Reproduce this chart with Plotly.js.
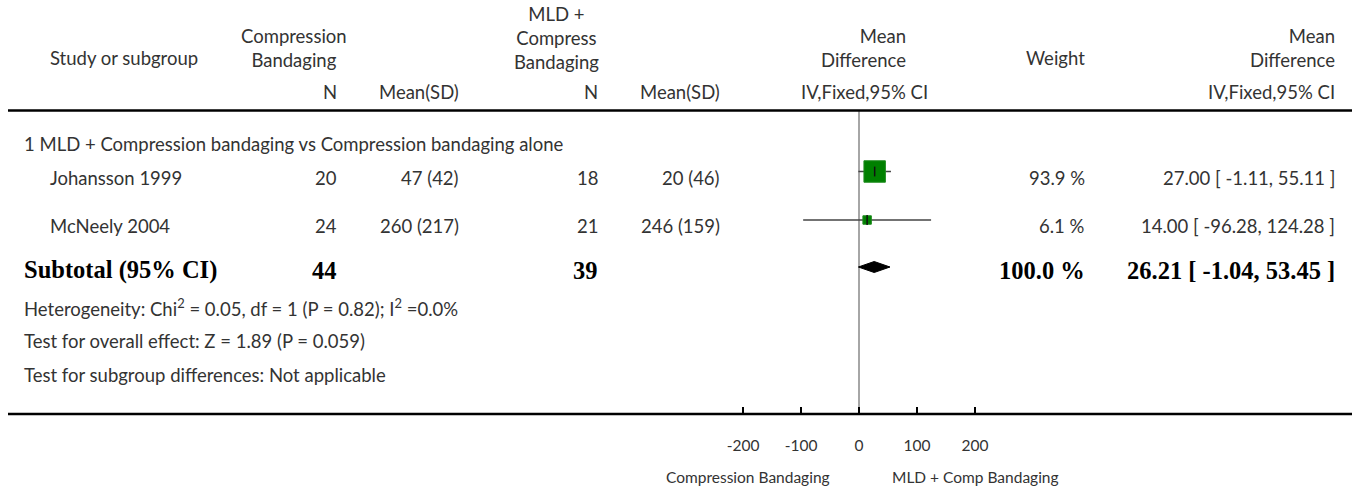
<!DOCTYPE html>
<html><head><meta charset="utf-8">
<script src="https://cdn.plot.ly/plotly-3.0.1.min.js"></script>
<style>html,body{margin:0;padding:0;background:#fff;}#chart{width:1359px;height:491px;}</style>
</head><body><div id="chart"></div>
<script>
// ---- data ----
var studies = ['Johansson 1999', 'McNeely 2004'];
var n1 = [20, 24];
var mean1 = [47, 260];
var sd1 = [42, 217];
var n2 = [18, 21];
var mean2 = [20, 246];
var sd2 = [46, 159];
var md = [27.00, 14.00];
var ciLow = [-1.11, -96.28];
var ciHigh = [55.11, 124.28];
var weights = [93.9, 6.1];
var totalN1 = 44, totalN2 = 39;
var totalMD = 26.21, totalLow = -1.04, totalHigh = 53.45, totalWeight = 100.0;
var tickValues = [-200, -100, 0, 100, 200];
var tickLabels = ['-200', '-100', '0', '100', '200'];
var subgroupTitle = '1 MLD + Compression bandaging vs Compression bandaging alone';
var footLines = [
  'Heterogeneity: Chi<sup>2</sup> = 0.05, df = 1 (P = 0.82); I<sup>2</sup> =0.0%',
  'Test for overall effect: Z = 1.89 (P = 0.059)',
  'Test for subgroup differences: Not applicable'
];
var favourLeft = 'Compression Bandaging', favourRight = 'MLD + Comp Bandaging';

// ---- layout constants ----
var W = 1359, H = 491;
var zeroPx = 859, pxPerUnit = 0.58;
var xr = [-zeroPx / pxPerUnit, (W - zeroPx) / pxPerUnit];
var rowText = [178, 226], rowMark = [171.5, 220];
var subText = 270, subMark = 267;
var SANS = 'Lato, "Open Sans", sans-serif';
var SERIF = '"Liberation Serif", "DejaVu Serif", serif';
var TXT = '#333333';
var FS = 18.5;
function px(x) { return x / W; }
var ann = [];
function t(text, x, y, anchor, opts) {
  opts = opts || {};
  ann.push({ text: text, xref: 'paper', yref: 'y', x: px(x), y: y, xanchor: anchor, yanchor: 'middle',
    showarrow: false, align: opts.align || anchor,
    font: { family: opts.family || SANS, size: opts.size || FS, color: opts.color || TXT } });
}
// headers
t('Study or subgroup', 48, 58, 'left');
t('Compression<br>Bandaging', 349, 48, 'right', {align: 'center'});
t('MLD +<br>Compress<br>Bandaging', 601, 38, 'right', {align: 'center'});
t('Mean<br>Difference', 908, 48, 'right', {align: 'right'});
t('Weight', 1087, 58, 'right');
t('Mean<br>Difference', 1337, 48, 'right', {align: 'right'});
t('N', 339, 92, 'right');
t('Mean(SD)', 461, 92, 'right');
t('N', 600, 92, 'right');
t('Mean(SD)', 722, 92, 'right');
t('IV,Fixed,95% CI', 930, 92, 'right');
t('IV,Fixed,95% CI', 1337, 92, 'right');
t(subgroupTitle, 22, 144, 'left');
function f2(v) { return v.toFixed(2); }
for (var i = 0; i < studies.length; i++) {
  var y = rowText[i];
  t(studies[i], 48, y, 'left');
  t(String(n1[i]), 339, y, 'right');
  t(mean1[i] + ' (' + sd1[i] + ')', 461, y, 'right');
  t(String(n2[i]), 600, y, 'right');
  t(mean2[i] + ' (' + sd2[i] + ')', 722, y, 'right');
  t(weights[i].toFixed(1) + ' %', 1087, y, 'right');
  t(f2(md[i]) + ' [ ' + f2(ciLow[i]) + ', ' + f2(ciHigh[i]) + ' ]', 1337, y, 'right');
}
var B = {family: SERIF, size: 24.5, color: '#000'};
t('<b>Subtotal (95% CI)</b>', 22, subText, 'left', B);
t('<b>' + totalN1 + '</b>', 339, subText, 'right', B);
t('<b>' + totalN2 + '</b>', 600, subText, 'right', B);
t('<b>' + totalWeight.toFixed(1) + ' %</b>', 1087, subText, 'right', B);
t('<b>' + f2(totalMD) + ' [ ' + f2(totalLow) + ', ' + f2(totalHigh) + ' ]</b>', 1337, subText, 'right', B);
var footY = [307, 341, 375];
for (var k = 0; k < footLines.length; k++) t(footLines[k], 22, footY[k], 'left');
t(favourLeft, 748, 477, 'center', {size: 15.5});
t(favourRight, 975, 477, 'center', {size: 15.5});

// ---- traces ----
var traces = [];
// CI lines through error bars
traces.push({
  type: 'scatter', mode: 'markers', x: md, y: rowMark,
  marker: { size: 1, color: '#444' },
  error_x: { type: 'data', symmetric: false,
    array: md.map(function (m, i) { return ciHigh[i] - m; }),
    arrayminus: md.map(function (m, i) { return m - ciLow[i]; }),
    width: 0, thickness: 1.6, color: '#444' },
  hoverinfo: 'skip', showlegend: false
});
// weight squares
traces.push({
  type: 'scatter', mode: 'markers', x: md, y: rowMark,
  marker: { symbol: 'square', size: weights.map(function (w) { return 4 + 18 * Math.sqrt(w / 100); }),
    color: '#008000', opacity: 1, line: { color: '#1e8c1e', width: 1 } },
  hoverinfo: 'skip', showlegend: false
});
// point ticks
traces.push({
  type: 'scatter', mode: 'markers', x: md, y: rowMark,
  marker: { symbol: 'line-ns', size: 7, line: { color: '#111', width: 1.5 } },
  hoverinfo: 'skip', showlegend: false
});
// diamond
traces.push({
  type: 'scatter', mode: 'lines', fill: 'toself', fillcolor: '#000',
  x: [totalLow, totalMD, totalHigh, totalMD, totalLow],
  y: [subMark, subMark - 5.5, subMark, subMark + 5.5, subMark],
  line: { color: '#000', width: 1 }, hoverinfo: 'skip', showlegend: false
});

var layout = {
  width: W, height: H, margin: { l: 0, r: 0, t: 0, b: 0 },
  paper_bgcolor: '#fff', plot_bgcolor: '#fff', showlegend: false,
  xaxis: { range: xr, anchor: 'free', position: (H - 414) / H, showline: false, zeroline: false, showgrid: false,
    tickmode: 'array', tickvals: tickValues, ticktext: tickLabels, ticks: 'inside', ticklen: 7, tickwidth: 2,
    tickcolor: '#000', ticklabelstandoff: 20,
    tickfont: { family: SANS, size: 15.5, color: TXT }, fixedrange: true },
  yaxis: { range: [H, 0], visible: false, fixedrange: true },
  shapes: [
    { type: 'line', xref: 'paper', yref: 'y', x0: px(8), x1: px(1352), y0: 110.5, y1: 110.5, line: { color: '#000', width: 2.5 } },
    { type: 'line', xref: 'paper', yref: 'y', x0: px(8), x1: px(1352), y0: 414, y1: 414, line: { color: '#000', width: 2.5 } },
    { type: 'line', xref: 'x', yref: 'y', x0: 0, x1: 0, y0: 111, y1: 414, line: { color: '#888', width: 1.5 }, layer: 'below' }
  ],
  annotations: ann
};
Plotly.newPlot('chart', traces, layout, { displayModeBar: false, staticPlot: true });
</script></body></html>
